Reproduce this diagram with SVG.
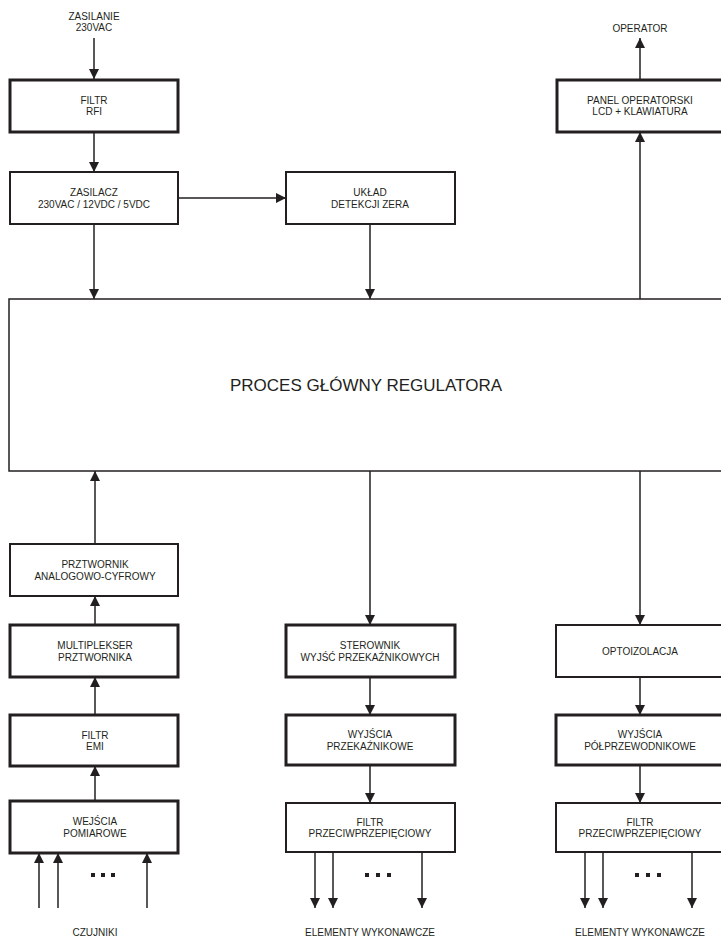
<svg xmlns="http://www.w3.org/2000/svg" width="721" height="937" viewBox="0 0 721 937">
<style>
.box{fill:#fff;stroke:#231f20}
.thick{stroke-width:3}
.thin{stroke-width:2}
.t{font-family:"Liberation Sans",Arial,sans-serif;font-size:10px;fill:#231f20;text-anchor:middle}
.big{font-size:17px}
.c{stroke:#231f20;stroke-width:1.5;fill:none}
.dot{fill:#231f20}
</style>
<defs>
<marker id="ah" viewBox="0 0 10 10" refX="10" refY="5" markerWidth="10" markerHeight="10" markerUnits="userSpaceOnUse" orient="auto">
<path d="M0,0 L10,5 L0,10 z" fill="#231f20"/>
</marker>
</defs>
<rect width="721" height="937" fill="#fff"/>

<g id="connectors">
<line class="c" x1="94" y1="38" x2="94" y2="79" marker-end="url(#ah)"/>
<line class="c" x1="94" y1="132" x2="94" y2="172" marker-end="url(#ah)"/>
<line class="c" x1="178" y1="198" x2="286" y2="198" marker-end="url(#ah)"/>
<line class="c" x1="94" y1="224" x2="94" y2="299" marker-end="url(#ah)"/>
<line class="c" x1="370" y1="224" x2="370" y2="299" marker-end="url(#ah)"/>
<line class="c" x1="640" y1="299" x2="640" y2="132" marker-end="url(#ah)"/>
<line class="c" x1="640" y1="79" x2="640" y2="38" marker-end="url(#ah)"/>
<line class="c" x1="95" y1="544" x2="95" y2="471" marker-end="url(#ah)"/>
<line class="c" x1="95" y1="625" x2="95" y2="596" marker-end="url(#ah)"/>
<line class="c" x1="95" y1="715" x2="95" y2="677" marker-end="url(#ah)"/>
<line class="c" x1="95" y1="801" x2="95" y2="766" marker-end="url(#ah)"/>
<line class="c" x1="39" y1="908" x2="39" y2="853" marker-end="url(#ah)"/>
<line class="c" x1="58" y1="908" x2="58" y2="853" marker-end="url(#ah)"/>
<line class="c" x1="147" y1="908" x2="147" y2="853" marker-end="url(#ah)"/>
<line class="c" x1="370" y1="471" x2="370" y2="625" marker-end="url(#ah)"/>
<line class="c" x1="370" y1="677" x2="370" y2="715" marker-end="url(#ah)"/>
<line class="c" x1="370" y1="765" x2="370" y2="803" marker-end="url(#ah)"/>
<line class="c" x1="315" y1="852" x2="315" y2="908" marker-end="url(#ah)"/>
<line class="c" x1="333" y1="852" x2="333" y2="908" marker-end="url(#ah)"/>
<line class="c" x1="422" y1="852" x2="422" y2="908" marker-end="url(#ah)"/>
<line class="c" x1="640" y1="471" x2="640" y2="625" marker-end="url(#ah)"/>
<line class="c" x1="640" y1="677" x2="640" y2="715" marker-end="url(#ah)"/>
<line class="c" x1="640" y1="765" x2="640" y2="803" marker-end="url(#ah)"/>
<line class="c" x1="585" y1="852" x2="585" y2="908" marker-end="url(#ah)"/>
<line class="c" x1="603" y1="852" x2="603" y2="908" marker-end="url(#ah)"/>
<line class="c" x1="692" y1="852" x2="692" y2="908" marker-end="url(#ah)"/>
</g>

<g id="labels">
<text class="t" x="94" y="19.5">ZASILANIE</text>
<text class="t" x="94" y="31">230VAC</text>
<text class="t" x="640" y="32">OPERATOR</text>
<text class="t" x="95" y="936">CZUJNIKI</text>
<text class="t" x="370" y="936">ELEMENTY WYKONAWCZE</text>
<text class="t" x="640" y="936">ELEMENTY WYKONAWCZE</text>
<g id="dots">
<rect class="dot" x="91" y="873" width="4" height="4"/>
<rect class="dot" x="101" y="873" width="4" height="4"/>
<rect class="dot" x="111" y="873" width="4" height="4"/>
<rect class="dot" x="365" y="873" width="4" height="4"/>
<rect class="dot" x="376" y="873" width="4" height="4"/>
<rect class="dot" x="387" y="873" width="4" height="4"/>
<rect class="dot" x="635" y="873" width="4" height="4"/>
<rect class="dot" x="646" y="873" width="4" height="4"/>
<rect class="dot" x="657" y="873" width="4" height="4"/>
</g>
</g>

<g id="filtr-rfi"><rect class="box thick" x="10" y="80" width="168" height="52"/><text class="t" x="94" y="103.5">FILTR</text><text class="t" x="94" y="115">RFI</text></g>
<g id="zasilacz"><rect class="box thin" x="10" y="172" width="168" height="52"/><text class="t" x="94" y="196">ZASILACZ</text><text class="t" x="94" y="207.5">230VAC / 12VDC / 5VDC</text></g>
<g id="uklad"><rect class="box thin" x="286" y="172" width="169" height="52"/><text class="t" x="370" y="196">UKŁAD</text><text class="t" x="370" y="207.5">DETEKCJI ZERA</text></g>
<g id="panel"><rect class="box thick" x="557" y="80" width="168" height="52"/><text class="t" x="640" y="103.5">PANEL OPERATORSKI</text><text class="t" x="640" y="115">LCD + KLAWIATURA</text></g>
<g id="proces"><rect class="box" style="stroke-width:1.5" x="9" y="299" width="730" height="172"/><text class="t big" x="366" y="391">PROCES GŁÓWNY REGULATORA</text></g>
<g id="przetwornik"><rect class="box thin" x="10" y="544" width="168" height="52"/><text class="t" x="95" y="568">PRZTWORNIK</text><text class="t" x="95" y="579.5">ANALOGOWO-CYFROWY</text></g>
<g id="multiplekser"><rect class="box thick" x="10" y="625" width="168" height="52"/><text class="t" x="95" y="649">MULTIPLEKSER</text><text class="t" x="95" y="660.5">PRZTWORNIKA</text></g>
<g id="filtr-emi"><rect class="box thick" x="10" y="715" width="168" height="51"/><text class="t" x="95" y="738.5">FILTR</text><text class="t" x="95" y="750">EMI</text></g>
<g id="wejscia"><rect class="box thick" x="10" y="801" width="168" height="52"/><text class="t" x="95" y="825">WEJŚCIA</text><text class="t" x="95" y="836.5">POMIAROWE</text></g>
<g id="sterownik"><rect class="box thick" x="286" y="625" width="169" height="52"/><text class="t" x="370" y="649">STEROWNIK</text><text class="t" x="370" y="660.5">WYJŚĆ PRZEKAŹNIKOWYCH</text></g>
<g id="wyjscia-przek"><rect class="box thick" x="286" y="715" width="169" height="50"/><text class="t" x="370" y="738">WYJŚCIA</text><text class="t" x="370" y="749.5">PRZEKAŹNIKOWE</text></g>
<g id="filtr-przec-1"><rect class="box thin" x="286" y="803" width="169" height="49"/><text class="t" x="370" y="825.5">FILTR</text><text class="t" x="370" y="837">PRZECIWPRZEPIĘCIOWY</text></g>
<g id="optoizolacja"><rect class="box thin" x="556" y="625" width="169" height="52"/><text class="t" x="640" y="654.5">OPTOIZOLACJA</text></g>
<g id="wyjscia-polprz"><rect class="box thick" x="556" y="715" width="169" height="50"/><text class="t" x="640" y="738">WYJŚCIA</text><text class="t" x="640" y="749.5">PÓŁPRZEWODNIKOWE</text></g>
<g id="filtr-przec-2"><rect class="box thin" x="556" y="803" width="169" height="49"/><text class="t" x="640" y="825.5">FILTR</text><text class="t" x="640" y="837">PRZECIWPRZEPIĘCIOWY</text></g>
</svg>
